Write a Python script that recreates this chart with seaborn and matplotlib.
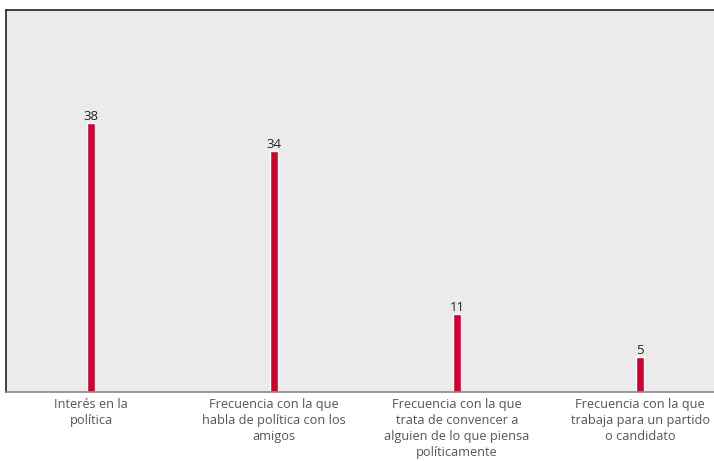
import matplotlib
matplotlib.use("Agg")
import matplotlib.pyplot as plt
import seaborn as sns
import pandas as pd

# categorias y valores (porcentajes)
categorias = [
    "Interés en la\npolítica",
    "Frecuencia con la que\nhabla de política con los\namigos",
    "Frecuencia con la que\ntrata de convencer a\nalguien de lo que piensa\npolíticamente",
    "Frecuencia con la que\ntrabaja para un partido\no candidato",
]
valores = [38, 34, 11, 5]

df = pd.DataFrame({"categoria": categorias, "valor": valores})

sns.set_style("white")
plt.rcParams["font.family"] = ["Open Sans", "DejaVu Sans"]

fig = plt.figure(figsize=(7.14, 4.61), dpi=100)
ax = fig.add_axes([6 / 714, 69 / 461, 708 / 714, 382 / 461])
ax.set_facecolor("#ebebeb")

sns.barplot(data=df, x="categoria", y="valor", color="#d0002f", width=0.044,
            saturation=1, ax=ax)
for cont in ax.containers:
    ax.bar_label(cont, padding=0, fontsize=9.5, color="#222222")

ax.set_xlim(-0.465, 3.404)
ax.set_ylim(0, 54)
ax.set_yticks([])
ax.set_xlabel("")
ax.set_ylabel("")
ax.tick_params(axis="x", length=0, pad=4, labelsize=9.2, labelcolor="#555555")
for lab in ax.get_xticklabels():
    lab.set_linespacing(1.3)

ax.spines["right"].set_visible(False)
ax.spines["top"].set_color("#222222")
ax.spines["left"].set_color("#222222")
ax.spines["bottom"].set_color("#888888")
for s in ["top", "left", "bottom"]:
    ax.spines[s].set_linewidth(1.2)

fig.savefig("out.png", dpi=100)
plt.close()
